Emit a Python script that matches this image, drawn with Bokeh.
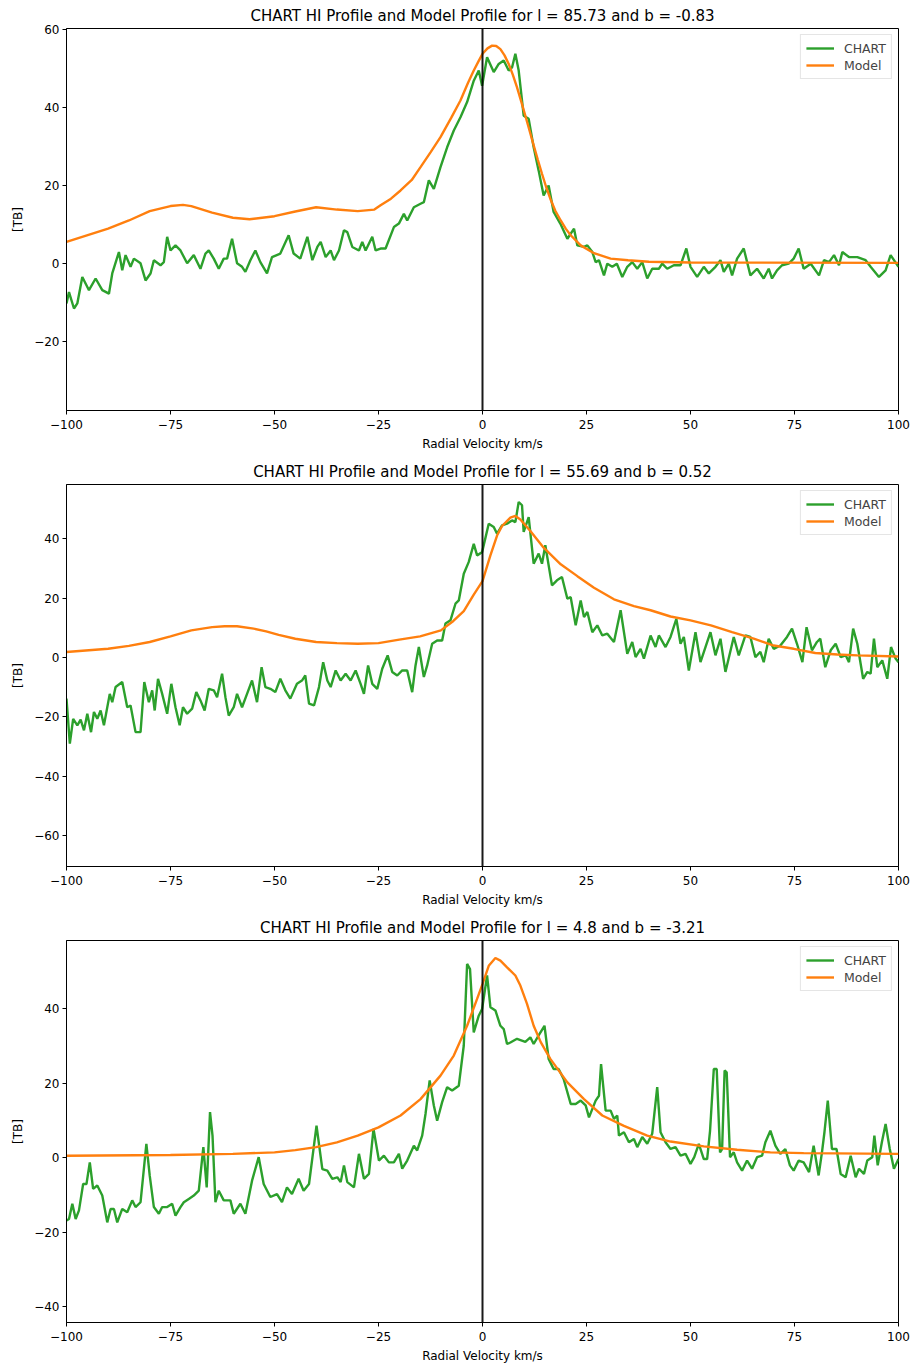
from bokeh.plotting import figure
from bokeh.layouts import column
from bokeh.models import Span, FixedTicker, Range1d
from bokeh.embed import file_html
from bokeh.resources import INLINE

FONT = "DejaVu Sans"
GREEN = "#2ca02c"
ORANGE = "#ff7f0e"

# ---------------- data ----------------
titles = [
    "CHART HI Profile and Model Profile for l = 85.73 and b = -0.83",
    "CHART HI Profile and Model Profile for l = 55.69 and b = 0.52",
    "CHART HI Profile and Model Profile for l = 4.8 and b = -3.21",
]
x_ticks = [-100, -75, -50, -25, 0, 25, 50, 75, 100]

# Panel 1 (l = 85.73, b = -0.83)
chart1_v = [-100.0, -99.4, -98.2, -97.4, -96.2, -94.6, -93.0, -91.4, -89.8, -89.0,
            -87.4, -86.6, -85.8, -84.6, -83.8, -82.2, -81.0, -79.8, -79.0, -77.4,
            -76.6, -75.8, -75.0, -73.8, -72.6, -71.0, -69.4, -67.8, -66.6, -65.8,
            -64.6, -63.4, -62.2, -61.4, -60.2, -59.0, -57.8, -57.0, -55.8, -54.6,
            -53.4, -51.8, -50.6, -48.6, -46.6, -45.4, -43.8, -42.1, -40.9, -39.7,
            -38.9, -37.7, -36.5, -35.7, -34.5, -33.3, -32.5, -31.3, -29.7, -28.9,
            -28.1, -26.5, -25.7, -24.5, -23.3, -21.3, -20.1, -18.9, -18.1, -16.5,
            -14.9, -14.1, -12.9, -11.7, -10.1, -8.5, -6.9, -5.3, -3.7, -2.1,
            -0.9, -0.1,
            1.1, 2.7, 3.9, 5.1, 6.3, 7.1, 7.9, 8.7, 9.9, 11.1,
            12.3, 13.5, 14.7, 15.9, 17.1, 18.7, 20.4, 22.0, 22.8, 24.4,
            25.2, 26.4, 27.2, 28.0, 29.2, 30.0, 31.2, 32.3, 33.6, 34.8,
            36.0, 37.2, 38.4, 39.6, 40.8, 42.4, 43.2, 44.4, 46.0, 47.6,
            49.0, 50.0, 51.6, 53.2, 54.4, 56.0, 57.2, 58.0, 59.2, 60.0,
            61.2, 62.8, 64.4, 66.0, 67.6, 68.8, 69.6, 70.8, 72.0, 73.6,
            74.8, 76.0, 77.2, 78.9, 80.9, 82.1, 83.3, 84.5, 85.7, 86.5,
            88.1, 90.1, 92.1, 93.3, 95.3, 96.9, 98.1, 100.0]
chart1_t = [-10.3, -7.4, -11.6, -10.3, -3.5, -6.9, -3.9, -6.9, -7.8, -2.6,
            2.9, -1.8, 2.1, -0.9, 1.2, 0.0, -4.4, -2.6, 0.8, -0.5,
            0.3, 6.8, 3.3, 4.6, 3.3, 0.0, 2.1, -1.4, 2.5, 3.3,
            1.2, -1.4, 1.2, 1.2, 6.3, 0.0, -0.9, -2.2, 0.8, 3.3,
            0.3, -2.6, 1.6, 2.5, 7.2, 2.5, 1.2, 6.8, 0.8, 4.2,
            5.5, 1.6, 3.3, 0.8, 3.3, 8.5, 8.0, 4.2, 3.3, 5.5,
            3.3, 6.8, 3.3, 3.8, 3.8, 9.3, 10.2, 12.7, 11.0, 14.4,
            15.3, 15.7, 21.3, 19.1, 24.7, 29.8, 34.1, 37.5, 41.4, 46.9,
            49.5, 45.6,
            52.9, 49.1, 51.2, 52.1, 49.5, 50.3, 53.8, 49.5, 37.9, 37.1,
            29.8, 23.8, 17.4, 20.0, 13.2, 10.2, 6.3, 8.9, 4.6, 4.2,
            4.6, 2.9, 0.3, 0.8, -3.1, -0.1, -0.9, -0.1, -3.5, -0.9,
            0.3, -1.4, 0.3, -3.9, -1.4, -1.4, -0.1, -1.4, -0.5, -0.5,
            3.8, -0.9, -3.5, -0.9, -2.6, -0.9, 0.8, -2.2, -0.1, -3.1,
            1.2, 3.8, -3.1, -1.4, -3.9, -1.4, -3.9, -1.8, -0.5, -0.1,
            1.2, 3.8, -1.4, -0.1, -3.1, 0.8, 0.3, 2.1, -0.5, 2.9,
            1.6, 1.6, 0.8, -0.9, -3.5, -1.8, 2.1, -0.9]
model1_v = [-100, -90, -85, -80, -75, -72, -70, -65, -60, -56,
            -50, -45, -40, -35, -30, -26, -24.5, -22, -19.7, -17,
            -14.9, -12.5, -10.1, -7.5, -5.3, -3.5, -2.1, -1, 0, 1.2,
            2.3, 3.3, 4.3, 5.3, 6.3, 7.3, 8.3, 9.3, 10.3, 11.3,
            12.3, 13.3, 14.3, 15.3, 16.3, 17.5, 18.8, 20, 21.2, 23.6,
            26.8, 30.8, 35, 40, 50, 100]
model1_t = [5.5, 8.9, 11.0, 13.4, 14.7, 15.0, 14.7, 13.0, 11.7, 11.3,
            12.1, 13.3, 14.4, 13.8, 13.4, 13.8, 14.9, 16.6, 18.7, 21.4,
            24.7, 28.5, 32.4, 37.4, 41.8, 46.3, 49.5, 51.8, 53.8, 55.2,
            55.9, 55.8, 55.0, 53.4, 51.2, 48.4, 45.2, 41.6, 37.9, 34.1,
            30.3, 26.6, 23.0, 19.6, 16.6, 13.5, 11.0, 8.9, 7.2, 4.6,
            2.6, 1.2, 0.8, 0.4, 0.2, 0.1]
y1_ticks = [-20, 0, 20, 40, 60]

# Panel 2 (l = 55.69, b = 0.52)
chart2_v = [-100.0, -99.2, -98.4, -97.4, -96.6, -95.8, -95.0, -94.1, -93.4, -92.6,
            -91.8, -91.0, -89.6, -89.0, -88.2, -86.6, -85.4, -84.6, -83.4, -82.2,
            -81.3, -80.2, -79.4, -78.8, -78.0, -77.0, -75.8, -74.8, -73.8, -72.8,
            -72.0, -71.0, -69.8, -68.8, -67.8, -66.8, -65.8, -64.6, -63.8, -62.6,
            -61.8, -61.0, -59.8, -59.0, -57.8, -56.6, -55.4, -54.2, -53.1, -52.2,
            -51.0, -49.8, -48.6, -47.4, -46.2, -44.6, -43.4, -42.6, -41.7, -40.5,
            -39.3, -38.3, -37.3, -36.5, -35.3, -34.1, -32.9, -31.7, -30.5, -29.3,
            -28.5, -27.5, -26.5, -25.3, -24.1, -22.8, -21.7, -20.5, -19.3, -18.1,
            -16.9, -16.1, -15.3, -14.1, -13.3, -12.1, -10.9, -9.7, -8.9, -7.7,
            -6.5, -5.7, -4.5, -3.3, -2.1, -1.3,
            -0.1, 1.5, 2.7, 3.5, 4.7, 5.9, 7.1, 7.9, 8.7, 9.5,
            9.9, 11.1, 12.3, 13.5, 14.3, 15.1, 16.7, 17.9, 19.1, 20.4,
            21.2, 22.4, 23.6, 24.4, 25.2, 26.4, 27.6, 28.8, 30.0, 31.6,
            33.2, 34.8, 36.0, 36.8, 38.0, 38.8, 40.4, 41.6, 42.4, 44.0,
            45.2, 46.6, 47.6, 48.4, 49.6, 51.2, 52.4, 53.6, 54.8, 56.0,
            57.2, 58.4, 60.4, 61.6, 63.2, 64.4, 65.6, 66.8, 67.6, 68.8,
            70.0, 71.6, 73.2, 74.4, 75.6, 76.9, 77.9, 79.2, 80.4, 81.2,
            82.4, 83.7, 84.9, 86.1, 87.3, 88.1, 89.1, 90.1, 91.5, 92.5,
            93.3, 94.1, 94.9, 96.1, 97.3, 98.2, 99.3, 100.0]
chart2_t = [-13.9, -29.1, -20.7, -22.9, -21.0, -24.6, -19.0, -25.2, -18.4, -20.7,
            -17.9, -22.9, -12.3, -15.1, -10.0, -8.3, -16.8, -16.2, -25.2, -25.2,
            -8.3, -15.1, -11.1, -17.9, -7.2, -12.3, -19.0, -8.9, -16.8, -22.9,
            -16.8, -19.0, -17.3, -11.7, -14.5, -17.9, -10.6, -11.1, -13.4, -5.5,
            -13.4, -19.6, -16.8, -12.3, -16.8, -12.3, -7.8, -15.1, -3.3, -10.0,
            -10.6, -11.7, -7.2, -11.1, -13.9, -8.9, -7.8, -6.1, -15.6, -16.2,
            -10.0, -1.6, -7.8, -10.0, -4.4, -7.8, -5.5, -7.8, -4.4, -8.9,
            -12.3, -2.7, -8.9, -10.6, -3.8, 0.7, -4.9, -6.1, -4.4, -4.4,
            -11.7, -2.7, 3.5, -6.6, -2.7, 4.6, 5.7, 5.7, 11.4, 12.5,
            18.1, 19.2, 28.2, 32.2, 38.3, 34.4,
            35.5, 45.1, 44.0, 41.7, 44.5, 45.1, 46.2, 45.6, 52.4, 51.3,
            42.3, 47.3, 31.6, 35.0, 31.6, 37.8, 24.3, 26.0, 27.1, 19.8,
            20.3, 10.8, 19.2, 13.6, 15.3, 8.5, 10.8, 7.4, 8.0, 5.2,
            15.9, 1.2, 5.2, 0.1, 2.9, -0.4, 7.4, 3.5, 7.4, 3.5,
            6.9, 13.0, 4.6, 6.9, -4.4, 8.5, -1.6, 3.5, 8.5, 0.7,
            6.3, -4.9, 6.9, 0.7, 7.4, 6.9, 0.1, 1.9, -1.6, 6.3,
            2.9, 4.0, 6.9, 9.7, 4.6, -1.6, 10.2, 2.4, 5.2, 6.3,
            -3.3, 2.4, 4.6, 0.1, 0.7, -1.6, 9.7, 4.6, -7.2, -4.9,
            -5.5, 6.3, -3.3, -1.0, -7.2, 3.5, -0.4, -1.6]
model2_v = [-100, -90, -85, -80, -75, -70, -65, -62, -59, -55,
            -52, -49, -45, -40, -35, -30, -25, -20, -15, -10,
            -7, -4.5, -2.1, 0, 1.9, 3.5, 4.7, 6.7, 7.9, 9.1,
            11.5, 14.7, 18.8, 22.8, 26.8, 31.6, 36.4, 40.4, 45.2, 50,
            54.9, 60, 65.2, 70, 74.8, 80, 85.3, 90.1, 100]
model2_t = [1.8, 2.9, 3.9, 5.2, 7.1, 9.1, 10.2, 10.5, 10.5, 9.7,
            8.8, 7.6, 6.3, 5.2, 4.8, 4.6, 4.8, 6.0, 7.1, 9.1,
            12.3, 15.6, 21.2, 25.7, 34.4, 41.1, 44.3, 47.1, 47.7, 46.5,
            42.6, 37.0, 31.4, 27.4, 23.5, 19.6, 17.3, 15.9, 13.8, 12.5,
            10.8, 8.5, 6.3, 4.0, 2.9, 1.5, 1.0, 0.7, 0.3]
y2_ticks = [-60, -40, -20, 0, 20, 40]

# Panel 3 (l = 4.8, b = -3.21)
chart3_v = [-100.0, -99.4, -98.6, -97.8, -97.0, -96.0, -95.2, -94.4, -93.6, -92.6,
            -91.4, -90.2, -89.4, -88.6, -87.8, -86.6, -85.4, -84.2, -83.4, -82.2,
            -80.8, -80.0, -79.0, -77.8, -77.0, -75.8, -74.6, -73.8, -72.6, -71.8,
            -70.6, -69.4, -68.2, -67.1, -66.3, -65.5, -64.9, -64.2, -63.4, -62.2,
            -60.6, -59.8, -58.2, -57.0, -55.4, -53.8, -52.6, -51.0, -49.4, -48.2,
            -47.0, -45.8, -44.2, -43.0, -41.7, -39.9, -38.5, -37.3, -36.1, -34.9,
            -34.1, -33.3, -32.5, -30.9, -29.7, -28.5, -27.3, -26.2, -24.9, -23.7,
            -22.5, -21.3, -20.1, -19.3, -18.1, -16.5, -15.7, -14.5, -13.7, -12.7,
            -11.7, -10.9, -9.7, -8.5, -7.3, -5.7, -4.5, -3.7, -3.0, -2.1,
            -0.9, -0.1, 1.1,
            1.9, 3.1, 4.3, 5.1, 5.9, 6.7, 8.3, 10.3, 11.5, 12.3,
            13.5, 14.9, 15.9, 17.1, 18.3, 19.5, 21.2, 22.4, 23.6, 24.8,
            25.6, 27.2, 28.0, 28.5, 29.6, 30.8, 31.6, 32.4, 32.8, 34.0,
            35.2, 36.4, 37.2, 38.4, 39.6, 40.8, 42.0, 42.8, 44.0, 45.2,
            46.4, 47.6, 48.8, 50.0, 50.9, 52.0, 53.2, 54.0, 54.7, 55.6,
            56.3, 57.1, 57.6, 58.2, 58.7, 59.5, 60.4, 61.2, 62.4, 63.6,
            64.8, 66.0, 67.2, 68.0, 69.2, 70.4, 71.6, 72.8, 73.9, 74.8,
            76.0, 77.2, 78.5, 79.6, 80.8, 81.6, 82.2, 83.0, 84.0, 85.1,
            86.1, 87.3, 88.5, 89.7, 90.5, 91.7, 92.5, 93.7, 94.2, 95.0,
            96.0, 96.9, 97.9, 98.9, 100.0]
chart3_t = [-16.9, -16.5, -12.4, -16.5, -14.2, -7.1, -7.1, -1.3, -8.4, -7.5,
            -10.2, -17.4, -13.8, -13.8, -17.4, -13.8, -14.7, -11.5, -13.3, -12.0,
            3.7, -4.8, -13.3, -15.1, -13.3, -13.3, -12.4, -15.6, -13.3, -12.0,
            -11.1, -10.2, -8.9, 2.8, -8.0, 12.2, 5.9, -12.0, -8.9, -11.5,
            -11.5, -15.1, -12.4, -15.1, -6.2, 0.1, -7.1, -10.6, -9.8, -12.0,
            -8.0, -9.8, -5.7, -8.9, -7.1, 8.6, -3.1, -3.5, -5.7, -5.3,
            -6.6, -2.1, -6.6, -8.0, 1.0, -5.7, -4.4, 7.7, -0.8, 0.5,
            -1.3, -1.3, 1.0, -3.0, -0.8, 3.2, 1.9, 5.9, 11.7, 20.7,
            14.0, 9.9, 14.9, 18.9, 18.0, 19.3, 30.1, 52.0, 50.6, 33.6,
            38.1, 39.9, 48.9,
            40.4, 39.5, 35.4, 34.5, 30.5, 30.9, 31.9, 31.1, 32.3, 30.5,
            32.8, 35.4, 26.5, 23.8, 23.8, 21.1, 14.4, 14.4, 15.3, 14.0,
            10.8, 15.3, 16.6, 25.1, 12.6, 12.6, 10.4, 11.3, 5.9, 6.8,
            4.1, 5.0, 2.8, 5.5, 3.7, 6.4, 18.9, 6.8, 4.1, 2.3,
            2.8, 0.5, 1.0, -1.7, 0.1, 3.7, -0.4, -0.4, 7.2, 23.8,
            23.8, 1.4, 2.3, 23.4, 22.9, 0.1, 1.4, -1.3, -3.5, -0.8,
            -3.0, 0.1, 0.5, 4.1, 7.2, 3.2, 1.0, 2.3, -2.1, -3.5,
            -0.8, -1.3, -3.9, 3.2, -4.8, 1.4, 6.8, 15.3, 2.3, 2.3,
            -4.4, -5.3, 0.5, -5.3, -3.0, -4.4, -0.8, 0.1, 5.9, -2.1,
            4.1, 9.0, 2.3, -3.0, -0.4]
model3_v = [-100, -75, -60, -50, -45, -40, -35, -30, -25, -19.7,
            -14.9, -10.1, -6.9, -3.7, -1.3, 0, 1.5, 3.1, 4.3, 5.9,
            7.9, 9.1, 10.7, 12.3, 14.0, 16.3, 20.4, 24.4, 28.8, 34,
            39.6, 45.2, 53.2, 61.2, 69.2, 77.2, 100]
model3_t = [0.5, 0.7, 1.0, 1.4, 2.0, 2.8, 4.1, 5.9, 8.1, 11.3,
            15.7, 22.0, 27.4, 35.4, 42.6, 46.6, 51.5, 53.6, 52.9, 51.1,
            48.9, 46.2, 41.3, 35.4, 31.0, 26.5, 20.2, 15.7, 11.3, 8.5,
            5.9, 4.3, 3.0, 2.1, 1.4, 1.2, 1.0]
y3_ticks = [-40, -20, 0, 20, 40]


def fmt(v):
    return ("\u2212" + str(abs(v))) if v < 0 else str(v)


def make_panel(title, cv, ct, mv, mt, ylo, yhi, yticks, height, bottom):
    p = figure(width=912, height=height, output_backend="svg", toolbar_location=None,
               x_range=Range1d(-100, 100), y_range=Range1d(ylo, yhi),
               min_border_left=66, min_border_right=14, min_border_top=28,
               min_border_bottom=bottom)
    p.title.text = title
    p.title.align = "center"
    p.title.text_font = FONT
    p.title.text_font_size = "15px"
    p.title.text_font_style = "normal"
    p.title.text_color = "black"
    p.title.standoff = 8

    p.line(cv, ct, line_color=GREEN, line_width=2.4, legend_label="CHART")
    p.line(mv, mt, line_color=ORANGE, line_width=2.4, legend_label="Model")
    p.add_layout(Span(location=0, dimension="height", line_color="black",
                      line_width=2, line_alpha=0.9))

    p.xgrid.visible = False
    p.ygrid.visible = False
    p.outline_line_color = "black"
    p.outline_line_alpha = 1.0
    p.outline_line_width = 1

    p.xaxis.ticker = FixedTicker(ticks=x_ticks)
    p.xaxis.major_label_overrides = {t: fmt(t) for t in x_ticks}
    p.yaxis.ticker = FixedTicker(ticks=yticks)
    p.yaxis.major_label_overrides = {t: fmt(t) for t in yticks}
    p.xaxis.axis_label = "Radial Velocity km/s"
    p.yaxis.axis_label = "[TB]"
    for ax in (p.xaxis[0], p.yaxis[0]):
        ax.major_tick_out = 4
        ax.major_tick_in = 0
        ax.minor_tick_out = 0
        ax.minor_tick_in = 0
        ax.axis_line_color = "black"
        ax.major_tick_line_color = "black"
        ax.major_label_text_font = FONT
        ax.major_label_text_font_size = "12px"
        ax.major_label_text_color = "black"
        ax.axis_label_text_font = FONT
        ax.axis_label_text_font_size = "12px"
        ax.axis_label_text_font_style = "normal"
        ax.axis_label_text_color = "black"
    p.xaxis.major_label_standoff = 5
    p.xaxis.axis_label_standoff = 5
    p.yaxis.major_label_standoff = 3
    p.yaxis.axis_label_standoff = 6

    lg = p.legend[0]
    lg.location = "top_right"
    lg.margin = 6
    lg.padding = 5
    lg.spacing = 1
    lg.glyph_width = 28
    lg.glyph_height = 16
    lg.label_height = 16
    lg.label_standoff = 10
    lg.label_text_font = FONT
    lg.label_text_font_size = "12.5px"
    lg.border_line_color = "#cccccc"
    lg.border_line_width = 1
    lg.background_fill_alpha = 0.8
    return p


p1 = make_panel(titles[0], chart1_v, chart1_t, model1_v, model1_t, -37.8, 60.3, y1_ticks, 456, 46)
p2 = make_panel(titles[1], chart2_v, chart2_t, model2_v, model2_t, -70.5, 58.3, y2_ticks, 456, 46)
p3 = make_panel(titles[2], chart3_v, chart3_t, model3_v, model3_t, -44.3, 58.3, y3_ticks, 455, 45)

layout = column(p1, p2, p3, spacing=0)
open("out.html", "w").write(file_html(layout, INLINE))
